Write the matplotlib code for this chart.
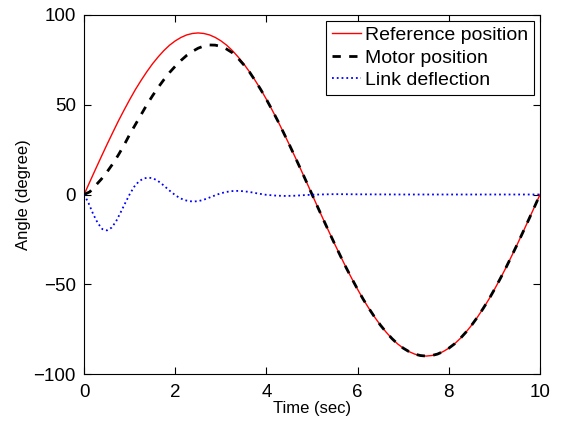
import matplotlib
matplotlib.use("Agg")
import matplotlib.pyplot as plt
import numpy as np

plt.rcParams['font.family'] = ['Liberation Sans', 'DejaVu Sans']

# reference and motor position, sampled every 0.125 s
t_pos = np.arange(0, 10.001, 0.125)
ref_pos = [0, 7.1, 14.1, 21.0, 27.8, 34.4, 40.9, 47.0, 52.9, 58.5, 63.6,
           68.4, 72.8, 76.7, 80.2, 83.2, 85.6, 87.5, 88.9, 89.7, 90.0,
           89.7, 88.9, 87.5, 85.6, 83.2, 80.2, 76.7, 72.8, 68.4, 63.6,
           58.5, 52.9, 47.0, 40.9, 34.4, 27.8, 21.0, 14.1, 7.1, 0,
           -7.1, -14.1, -21.0, -27.8, -34.4, -40.9, -47.0, -52.9, -58.5, -63.6,
           -68.4, -72.8, -76.7, -80.2, -83.2, -85.6, -87.5, -88.9, -89.7, -90.0,
           -89.7, -88.9, -87.5, -85.6, -83.2, -80.2, -76.7, -72.8, -68.4, -63.6,
           -58.5, -52.9, -47.0, -40.9, -34.4, -27.8, -21.0, -14.1, -7.1, 0]
motor_pos = [0, 1.5, 5.0, 8.5, 12.5, 17.0, 22.0, 27.5, 33.5, 39.0, 44.5,
             50.0, 55.0, 59.7, 64.0, 68.0, 71.5, 74.7, 77.5, 79.7, 81.5,
             82.7, 83.3, 83.2, 82.5, 81.0, 79.0, 75.9, 72.3, 68.3, 63.5,
             58.4, 52.9, 47.0, 40.9, 34.4, 27.8, 21.0, 14.1, 7.1, 0,
             -7.1, -14.1, -21.0, -27.8, -34.4, -40.9, -47.0, -52.9, -58.5, -63.6,
             -68.4, -72.8, -76.7, -80.2, -83.2, -85.6, -87.5, -88.9, -89.7, -90.0,
             -89.7, -88.9, -87.5, -85.6, -83.2, -80.2, -76.7, -72.8, -68.4, -63.6,
             -58.5, -52.9, -47.0, -40.9, -34.4, -27.8, -21.0, -14.1, -7.1, 0]

# link deflection
t_defl = [0, 0.1, 0.2, 0.3, 0.4, 0.5, 0.6, 0.7, 0.8, 0.9, 1.0, 1.1, 1.2, 1.3,
          1.4, 1.5, 1.6, 1.7, 1.8, 1.9, 2.0, 2.1, 2.2, 2.3, 2.4, 2.5, 2.6, 2.7,
          2.8, 2.9, 3.0, 3.1, 3.2, 3.3, 3.4, 3.5, 3.6, 3.7, 3.8, 3.9, 4.0, 4.2,
          4.4, 4.6, 4.8, 5.0, 5.5, 6.0, 7.0, 8.0, 9.0, 10.0]
link_defl = [0, -5.0, -11.0, -16.0, -19.3, -20.0, -18.5, -15.0, -10.0, -4.8,
             0.2, 4.4, 7.3, 8.9, 9.4, 9.1, 7.9, 6.0, 3.8, 1.6, -0.4, -2.0, -3.1,
             -3.7, -3.9, -3.7, -3.1, -2.2, -1.2, -0.2, 0.7, 1.3, 1.8, 2.0, 2.0,
             1.8, 1.5, 1.1, 0.6, 0.2, -0.2, -0.6, -0.8, -0.7, -0.4, -0.1, 0.2,
             0.1, 0, 0, 0, 0]

fig = plt.figure(figsize=(5.61, 4.21), dpi=100)
ax = fig.add_axes([0.150, 0.1116, 0.8126, 0.8528])

ax.plot(t_pos, ref_pos, color='red', lw=1.0, label='Reference position')
ax.plot(t_pos, motor_pos, 'k--', lw=2.0, dashes=(3, 3), label='Motor position')
ax.plot(t_defl, link_defl, color='blue', ls=':', lw=1.3, label='Link deflection')

ax.set_xlim(0, 10)
ax.set_ylim(-100, 100)
ax.set_xticks([0, 2, 4, 6, 8, 10])
ax.set_yticks([-100, -50, 0, 50, 100])
ax.tick_params(direction='in', top=True, right=True, labelsize=13.5, length=5)
ax.tick_params(axis='x', pad=7)
ax.tick_params(axis='y', pad=6)
ax.set_xlabel('Time (sec)', fontsize=12, labelpad=0)
ax.set_ylabel('Angle (degree)', fontsize=12, labelpad=2)

leg = ax.legend(loc='upper right', fontsize=14, handlelength=1.5,
                handletextpad=0.2, borderpad=0.3, labelspacing=0.25,
                fancybox=False, framealpha=1, borderaxespad=0.3)
leg.get_frame().set_edgecolor('black')
leg.get_frame().set_linewidth(0.8)

fig.savefig('out.png', dpi=100)
